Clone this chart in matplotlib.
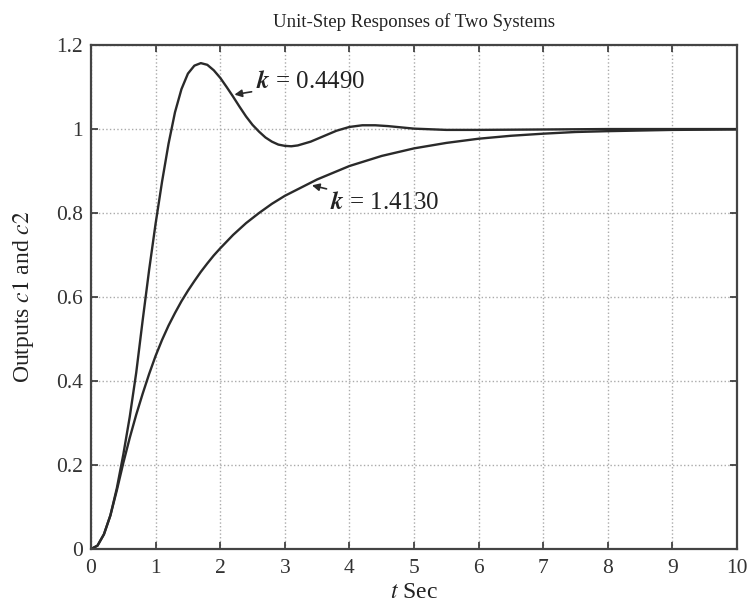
import numpy as np
import matplotlib
matplotlib.use("Agg")
import matplotlib.pyplot as plt

plt.rcParams['font.family'] = ['Liberation Serif', 'DejaVu Serif']
plt.rcParams['mathtext.fontset'] = 'stix'

# response of system with k = 0.4490
t1 = [0, 0.1, 0.2, 0.3, 0.4, 0.5, 0.6, 0.7, 0.8, 0.9, 1.0, 1.1, 1.2, 1.3,
      1.4, 1.5, 1.6, 1.7, 1.8, 1.9, 2.0, 2.1, 2.2, 2.3, 2.4, 2.5, 2.6, 2.7,
      2.8, 2.9, 3.0, 3.1, 3.2, 3.4, 3.6, 3.8, 4.0, 4.2, 4.4, 4.6, 4.8, 5.0,
      5.5, 6, 7, 8, 9, 10]
c1 = [0, 0.008, 0.035, 0.08, 0.145, 0.225, 0.315, 0.42, 0.545, 0.665,
      0.775, 0.875, 0.965, 1.04, 1.095, 1.132, 1.151, 1.157, 1.153, 1.14,
      1.122, 1.10, 1.077, 1.053, 1.03, 1.01, 0.994, 0.98, 0.97, 0.963,
      0.96, 0.959, 0.961, 0.97, 0.983, 0.996, 1.005, 1.009, 1.009, 1.007,
      1.004, 1.001, 0.998, 0.998, 0.999, 1.0, 1.0, 1.0]

# response of system with k = 1.4130
t2 = [0, 0.1, 0.2, 0.3, 0.4, 0.5, 0.6, 0.7, 0.8, 0.9, 1.0, 1.1, 1.2, 1.3,
      1.4, 1.5, 1.6, 1.7, 1.8, 1.9, 2.0, 2.2, 2.4, 2.6, 2.8, 3.0, 3.5, 4.0,
      4.5, 5, 5.5, 6, 6.5, 7, 7.5, 8, 9, 10]
c2 = [0, 0.008, 0.035, 0.08, 0.14, 0.205, 0.265, 0.32, 0.37, 0.417, 0.46,
      0.498, 0.532, 0.562, 0.59, 0.615, 0.638, 0.66, 0.68, 0.699, 0.716,
      0.748, 0.776, 0.8, 0.822, 0.841, 0.88, 0.912, 0.936, 0.954, 0.967,
      0.977, 0.984, 0.989, 0.993, 0.995, 0.998, 0.999]

xticks = list(range(0, 11))
yticks = [0, 0.2, 0.4, 0.6, 0.8, 1, 1.2]
ytick_labels = ['0', '0.2', '0.4', '0.6', '0.8', '1', '1.2']

fig = plt.figure(figsize=(7.54, 6.09), dpi=100)
ax = fig.add_axes([0.1207, 0.0985, 0.8568, 0.8275])

line_color = '#2a2a2a'
ax.plot(t1, c1, color=line_color, lw=1.7)
ax.plot(t2, c2, color=line_color, lw=1.7)

ax.set_xlim(0, 10)
ax.set_ylim(0, 1.2)
ax.set_xticks(xticks)
ax.set_yticks(yticks)
ax.set_yticklabels(ytick_labels)
ax.tick_params(direction='in', length=5, width=1.2, labelsize=15.5,
               colors='#333333', top=True, right=True)
ax.tick_params(axis='x', pad=7)
ax.tick_params(axis='y', pad=6)
for s in ax.spines.values():
    s.set_linewidth(1.6)
    s.set_color('#444444')
ax.grid(True, ls=':', color='#aaaaaa', lw=1.0)

ax.set_title('Unit-Step Responses of Two Systems', fontsize=13.5, pad=13,
             color='#222222')
ax.set_xlabel('$t$ Sec', fontsize=17, labelpad=3, color='#222222')
ax.set_ylabel('Outputs $c1$ and $c2$', fontsize=17, labelpad=14,
              color='#222222')

ax.annotate(r'$\mathbfit{k}$ = 0.4490', xy=(2.22, 1.082), xytext=(2.55, 1.112),
            fontsize=18, va='center', color='#222222',
            arrowprops=dict(arrowstyle='-|>', color=line_color, lw=1.2,
                            shrinkA=1, shrinkB=0, mutation_scale=11))
ax.annotate(r'$\mathbfit{k}$ = 1.4130', xy=(3.42, 0.866), xytext=(3.7, 0.824),
            fontsize=18, va='center', color='#222222',
            arrowprops=dict(arrowstyle='-|>', color=line_color, lw=1.2,
                            shrinkA=1, shrinkB=0, mutation_scale=11))

fig.savefig('out.png', dpi=100)
